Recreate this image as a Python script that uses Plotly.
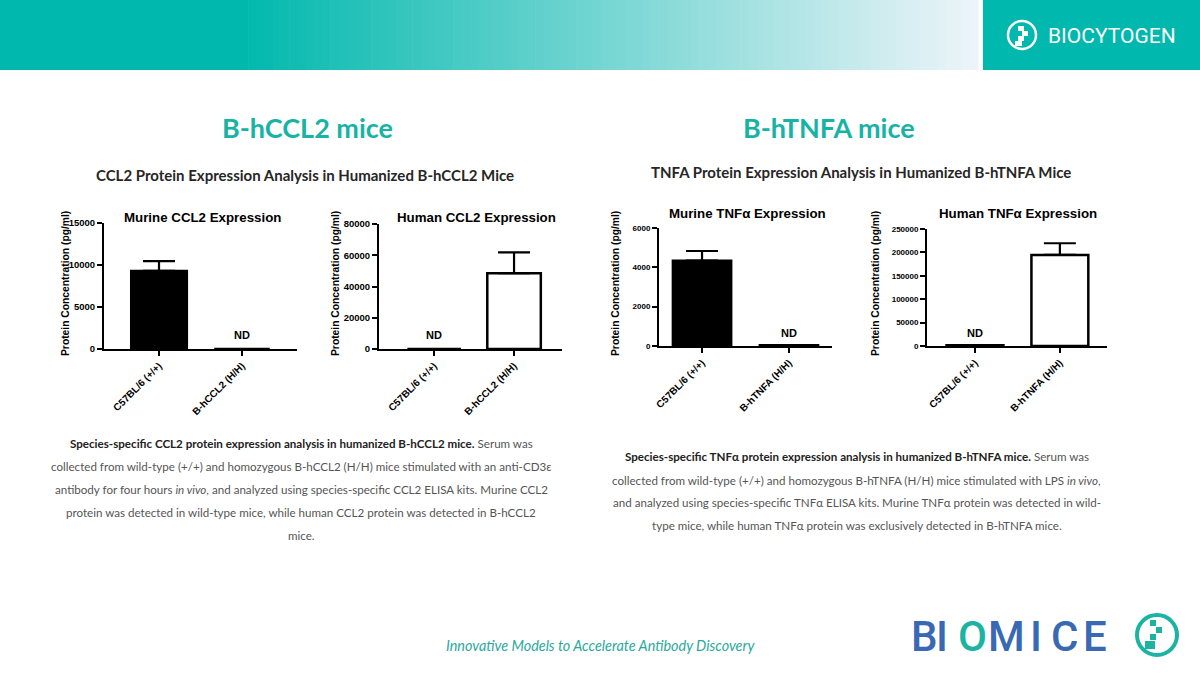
import plotly.graph_objects as go

W, H = 1200, 675

# ---------------- data ----------------
cats_ccl2 = ["C57BL/6 (+/+)", "B-hCCL2 (H/H)"]
cats_tnfa = ["C57BL/6 (+/+)", "B-hTNFA (H/H)"]

murine_ccl2 = [9300, 0]
murine_ccl2_err = [1150, 0]
human_ccl2 = [0, 48500]
human_ccl2_err = [0, 13400]
murine_tnfa = [4340, 40]
murine_tnfa_err = [490, 0]
human_tnfa = [1500, 194500]
human_tnfa_err = [0, 25000]

ticks_murine_ccl2 = [0, 5000, 10000, 15000]
ticks_human_ccl2 = [0, 20000, 40000, 60000, 80000]
ticks_murine_tnfa = [0, 2000, 4000, 6000]
ticks_human_tnfa = [0, 50000, 100000, 150000, 200000, 250000]

nd_labels = ["ND", "ND", "ND", "ND"]

TEAL = "#00b8ad"
HEAD = "#17b3a5"
ARIAL = "Liberation Sans"
BODY = "Lato"


def px(x):
    return x / W


def py(y):
    return 1 - y / H


fig = go.Figure()

panels = [
    dict(x0=104, x1=297, yt=223, yb=349, xr=[-0.663, 1.663], ymax=15000,
         cats=cats_ccl2, vals=murine_ccl2, err=murine_ccl2_err, color="black",
         ticks=ticks_murine_ccl2, title="Murine CCL2 Expression", tx=202, ty=217,
         ytx=65, nd=1, tfs=9.5),
    dict(x0=379, x1=562, yt=224, yb=349, xr=[-0.69, 1.60], ymax=80000,
         cats=cats_ccl2, vals=human_ccl2, err=human_ccl2_err, color="white",
         ticks=ticks_human_ccl2, title="Human CCL2 Expression", tx=476, ty=217,
         ytx=335, nd=0, tfs=9.5),
    dict(x0=659, x1=832, yt=228, yb=346, xr=[-0.495, 1.495], ymax=6000,
         cats=cats_tnfa, vals=murine_tnfa, err=murine_tnfa_err, color="black",
         ticks=ticks_murine_tnfa, title="Murine TNFα Expression", tx=747, ty=214,
         ytx=615, nd=1, tfs=8),
    dict(x0=927, x1=1107, yt=229, yb=346, xr=[-0.565, 1.555], ymax=250000,
         cats=cats_tnfa, vals=human_tnfa, err=human_tnfa_err, color="white",
         ticks=ticks_human_tnfa, title="Human TNFα Expression", tx=1018, ty=214,
         ytx=875, nd=0, tfs=8),
]

annotations = []
shapes = []

for i, p in enumerate(panels, start=1):
    xa = "x" if i == 1 else f"x{i}"
    ya = "y" if i == 1 else f"y{i}"
    fig.add_trace(go.Bar(
        x=p["cats"], y=p["vals"], xaxis=xa, yaxis=ya, width=0.67,
        marker=dict(color=p["color"], line=dict(color="black", width=2.5)),
        error_y=dict(type="data", symmetric=False, array=p["err"],
                     arrayminus=[0, 0], color="black", thickness=2.2, width=16),
        showlegend=False, hoverinfo="skip",
    ))
    xkey = "xaxis" if i == 1 else f"xaxis{i}"
    ykey = "yaxis" if i == 1 else f"yaxis{i}"
    fig.update_layout(**{
        xkey: dict(domain=[px(p["x0"]), px(p["x1"])], anchor=ya, type="category",
                   range=p["xr"], showline=True, linecolor="black", linewidth=2,
                   ticks="outside", ticklen=5, tickwidth=2, tickcolor="black",
                   tickangle=-45, showgrid=False, zeroline=False, automargin=False,
                   tickfont=dict(family=ARIAL, size=10, color="black", weight="bold")),
        ykey: dict(domain=[py(p["yb"]), py(p["yt"])], anchor=xa, range=[0, p["ymax"]],
                   tickvals=p["ticks"], tickformat="d", showline=True, linecolor="black",
                   linewidth=2, ticks="outside", ticklen=5, tickwidth=2, tickcolor="black",
                   showgrid=False, zeroline=False, automargin=False,
                   tickfont=dict(family=ARIAL, size=p["tfs"], color="black", weight="bold")),
    })
    annotations.append(dict(text=f"<b>{p['title']}</b>", x=px(p["tx"]), y=py(p["ty"]),
                            font=dict(family=ARIAL, size=13.3, color="black")))
    annotations.append(dict(text="<b>Protein Concentration (pg/ml)</b>", textangle=-90,
                            x=px(p["ytx"]), y=py(284),
                            font=dict(family=ARIAL, size=10.3, color="black")))
    annotations.append(dict(text=f"<b>{nd_labels[i-1]}</b>", x=p["cats"][p["nd"]], y=0.11,
                            xref=xa, yref=f"{ya} domain",
                            font=dict(family=ARIAL, size=11, color="black")))

# ---------------- slide text ----------------
annotations += [
    dict(text="<b>B-hCCL2 mice</b>", x=px(307), y=py(128), font=dict(family=BODY, size=27, color=HEAD)),
    dict(text="<b>B-hTNFA mice</b>", x=px(829), y=py(127), font=dict(family=BODY, size=27, color=HEAD)),
    dict(text="<b>CCL2 Protein Expression Analysis in Humanized B-hCCL2 Mice</b>", x=px(305), y=py(175),
         font=dict(family=BODY, size=15, color="#262626")),
    dict(text="<b>TNFA Protein Expression Analysis in Humanized B-hTNFA Mice</b>", x=px(861), y=py(172),
         font=dict(family=BODY, size=15, color="#262626")),
    dict(text="<i>Innovative Models to Accelerate Antibody Discovery</i>", x=px(600), y=py(645),
         font=dict(family=BODY, size=14.4, color="#2aa99c")),
]

left_lines = [
    "<span style='color:#222'><b>Species-specific CCL2 protein expression analysis in humanized B-hCCL2 mice.</b></span> Serum was",
    "collected from wild-type (+/+) and homozygous B-hCCL2 (H/H) mice stimulated with an anti-CD3ε",
    "antibody for four hours <i>in vivo</i>, and analyzed using species-specific CCL2 ELISA kits. Murine CCL2",
    "protein was detected in wild-type mice, while human CCL2 protein was detected in B-hCCL2",
    "mice.",
]
left_y = [443, 466, 489, 512, 535]
right_lines = [
    "<span style='color:#222'><b>Species-specific TNFα protein expression analysis in humanized B-hTNFA mice.</b></span> Serum was",
    "collected from wild-type (+/+) and homozygous B-hTNFA (H/H) mice stimulated with LPS <i>in vivo</i>,",
    "and analyzed using species-specific TNFα ELISA kits. Murine TNFα protein was detected in wild-",
    "type mice, while human TNFα protein was exclusively detected in B-hTNFA mice.",
]
right_y = [457, 480, 502, 525]
for t, y in zip(left_lines, left_y):
    annotations.append(dict(text=t, x=px(301), y=py(y), font=dict(family=BODY, size=11.6, color="#555")))
for t, y in zip(right_lines, right_y):
    annotations.append(dict(text=t, x=px(857), y=py(y), font=dict(family=BODY, size=11.6, color="#555")))

# logos text
annotations.append(dict(text="BIOCYTOGEN", x=px(1112), y=py(36),
                        font=dict(family="Roboto", size=21, color="white")))
biomice_letters = ["B", "I", "O", "M", "I", "C", "E"]
biomice_x = [924, 942, 972, 1007, 1036, 1064, 1095]
biomice_col = ["#3a69b3", "#3a69b3", "#1db3a3", "#3a69b3", "#3a69b3", "#3a69b3", "#3a69b3"]
for ch, x, c in zip(biomice_letters, biomice_x, biomice_col):
    annotations.append(dict(text=ch, x=px(x), y=py(636),
                            font=dict(family="Roboto", size=42, color=c, weight=500)))

for a in annotations:
    a.setdefault("xref", "paper")
    a.setdefault("yref", "paper")
    a.setdefault("showarrow", False)
    a.setdefault("xanchor", "center")
    a.setdefault("yanchor", "middle")

# ---------------- header shapes ----------------
def rect(x0, y0, x1, y1, color, layer="below"):
    return dict(type="rect", xref="paper", yref="paper", x0=px(x0), x1=px(x1), y0=py(y1), y1=py(y0),
                fillcolor=color, line=dict(width=0), layer=layer)

shapes.append(rect(0, 0, 241, 70, TEAL))
c0 = (0, 184, 173)
c1 = (238, 244, 249)
N = 90
xs, xe = 240, 978
for k in range(N):
    t = (k + 0.5) / N
    col = tuple(int(round(c0[j] + (c1[j] - c0[j]) * t)) for j in range(3))
    shapes.append(rect(xs + (xe - xs) * k / N, 0, xs + (xe - xs) * (k + 1) / N + 0.6, 70,
                       f"rgb{col}"))
shapes.append(rect(983, 0, 1200, 70, TEAL))

# BIOCYTOGEN icon
shapes.append(dict(type="circle", xref="paper", yref="paper", x0=px(1008), x1=px(1036),
                   y0=py(49), y1=py(21), line=dict(color="white", width=2.5), layer="above"))
for (a, b, c, d) in [(1018, 26, 1024, 31), (1022, 31, 1028, 36), (1018, 36, 1024, 41), (1015, 41, 1022, 46)]:
    shapes.append(rect(a, b, c, d, "white", layer="above"))

# BIOMICE right icon
shapes.append(dict(type="circle", xref="paper", yref="paper", x0=px(1137), x1=px(1177),
                   y0=py(655), y1=py(615), line=dict(color="#1db3a3", width=4), layer="above"))
for (a, b, c, d) in [(1150, 620, 1156, 626), (1156, 627, 1162, 633), (1150, 634, 1156, 640), (1145, 641, 1155, 649)]:
    shapes.append(rect(a, b, c, d, "#1db3a3", layer="above"))

fig.update_layout(
    template="none",
    width=W, height=H, margin=dict(l=0, r=0, t=0, b=0, pad=0, autoexpand=False),
    paper_bgcolor="white", plot_bgcolor="rgba(0,0,0,0)",
    showlegend=False, bargap=0.3,
    annotations=annotations, shapes=shapes,
)

fig.write_html("out.html", config={"displayModeBar": False},
               post_script="document.body.style.margin='0';document.body.style.overflow='hidden';")
